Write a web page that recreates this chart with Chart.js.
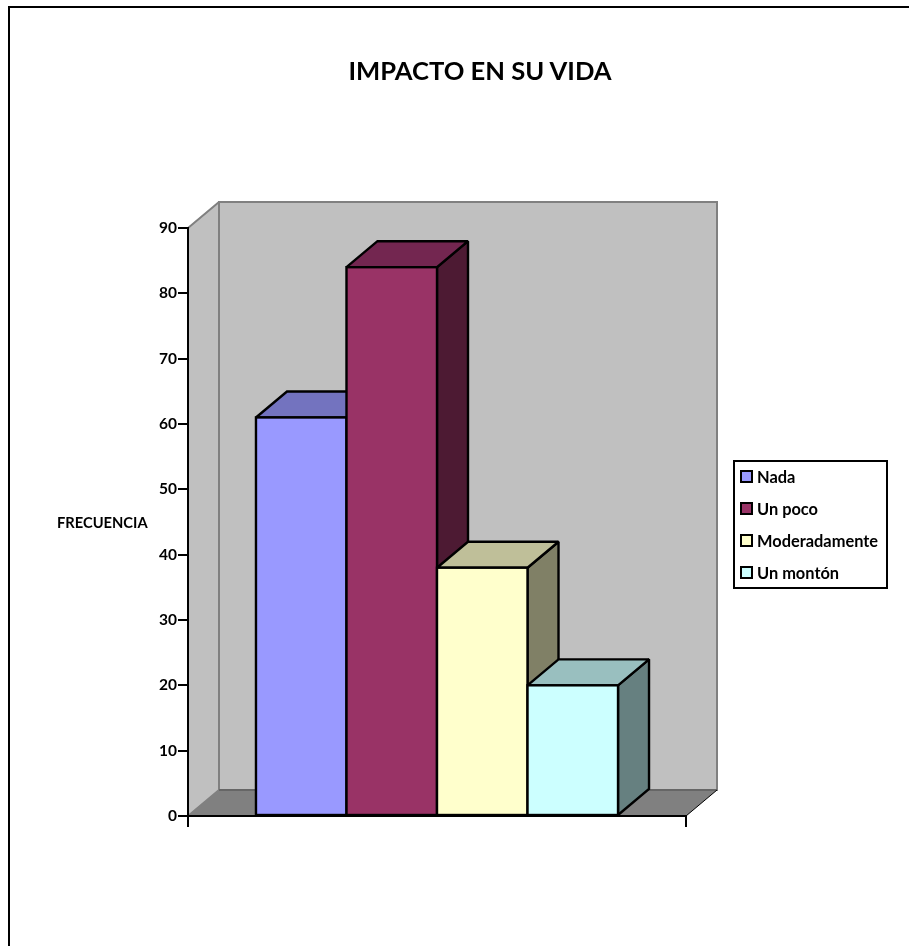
<!DOCTYPE html>
<html>
<head>
<meta charset="utf-8">
<title>Impacto en su vida</title>
<script src="https://cdn.jsdelivr.net/npm/chart.js@4"></script>
<style>
  html, body { margin: 0; padding: 0; background: #fff; overflow: hidden; }
  body { position: relative; width: 909px; height: 946px; font-family: Lato, sans-serif; font-weight: 700; color: #000; }
  #frame { position: absolute; left: 8px; top: 6px; right: 0; bottom: 0; border-left: 2px solid #000; border-top: 2px solid #000; }
  #chart { position: absolute; left: 0; top: 0; }
  #title { position: absolute; left: 280px; width: 400px; top: 55px; text-align: center; font-size: 25.6px; line-height: 30px; }
  #yLabel { position: absolute; left: 57px; top: 513px; font-size: 14.7px; line-height: 18px; }
  #legend { position: absolute; left: 733px; top: 460px; width: 151px; height: 125px; border: 2px solid #000; }
  .row { position: absolute; left: 0; height: 32px; font-size: 16.4px; line-height: 18px; white-space: nowrap; }
  .row i { position: absolute; left: 5px; top: 6px; width: 9px; height: 9px; border: 2px solid #000; }
  .row span { position: absolute; left: 22px; top: 4px; }
</style>
</head>
<body>
<div id="frame"></div>
<canvas id="chart" width="909" height="946"></canvas>
<div id="title">IMPACTO EN SU VIDA</div>
<div id="yLabel">FRECUENCIA</div>
<div id="legend"></div>
<script>
/* ---------------- DATA ---------------- */
const categories  = ["Nada", "Un poco", "Moderadamente", "Un montón"];
const frequencies = [61, 84, 38, 20];
const yTicks      = [0, 10, 20, 30, 40, 50, 60, 70, 80, 90];

/* --------------- STYLE ---------------- */
const frontColors = ["#9999FF", "#993366", "#FFFFCC", "#CCFFFF"];
const topColors   = ["#7373BF", "#732650", "#BFBF99", "#99BFBF"];
const sideColors  = ["#4D4D80", "#4D1A33", "#808066", "#668080"];
const DEPTH_X = 31;
const DEPTH_Y = 26;

function poly(ctx, pts, fill, stroke, width) {
  ctx.beginPath();
  pts.forEach(([x, y], i) => i ? ctx.lineTo(x, y) : ctx.moveTo(x, y));
  ctx.closePath();
  ctx.fillStyle = fill;
  ctx.fill();
  if (stroke) {
    ctx.strokeStyle = stroke;
    ctx.lineWidth = width;
    ctx.lineJoin = "miter";
    ctx.miterLimit = 2;
    ctx.stroke();
  }
}

/* walls and floor go under the axes */
const walls = {
  id: "walls",
  beforeDraw(chart) {
    const { ctx, chartArea: a } = chart;
    const dx = DEPTH_X, dy = DEPTH_Y;
    ctx.save();
    poly(ctx, [[a.left + dx, a.top - dy], [a.right + dx, a.top - dy], [a.right + dx, a.bottom - dy], [a.left + dx, a.bottom - dy]], "#C0C0C0", "#808080", 2);
    poly(ctx, [[a.left, a.top], [a.left + dx, a.top - dy], [a.left + dx, a.bottom - dy], [a.left, a.bottom]], "#C0C0C0", "#808080", 2);
    poly(ctx, [[a.left, a.bottom], [a.left + dx, a.bottom - dy], [a.right + dx, a.bottom - dy], [a.right, a.bottom]], "#808080");
    ctx.strokeStyle = "#666666";
    ctx.lineWidth = 2;
    ctx.beginPath();
    ctx.moveTo(a.left + dx, a.bottom - dy);
    ctx.lineTo(a.right + dx, a.bottom - dy);
    ctx.stroke();
    ctx.strokeStyle = "#000";
    ctx.lineWidth = 1;
    ctx.beginPath();
    ctx.moveTo(a.right, a.bottom);
    ctx.lineTo(a.right + dx, a.bottom - dy);
    ctx.stroke();
    ctx.restore();
  }
};

/* chart.js paints the last dataset first, here the overlap needs left to right */
const bars3d = {
  id: "bars3d",
  beforeDatasetDraw() { return false; },
  afterDatasetsDraw(chart) {
    const { ctx } = chart;
    const dx = DEPTH_X, dy = DEPTH_Y;
    ctx.save();
    frequencies.forEach((_, i) => {
      const bar = chart.getDatasetMeta(i).data[0];
      const l = bar.x - bar.width / 2, r = bar.x + bar.width / 2;
      const t = bar.y, b = bar.base;
      poly(ctx, [[r, t], [r + dx, t - dy], [r + dx, b - dy], [r, b]], sideColors[i], "#000", 2.4);
      poly(ctx, [[l, t], [l + dx, t - dy], [r + dx, t - dy], [r, t]], topColors[i], "#000", 2.4);
      bar.draw(ctx);
      // outline centred on the bar edge, the built in border sits inside it
      ctx.strokeStyle = "#000";
      ctx.lineWidth = 2.4;
      ctx.strokeRect(l, t, r - l, b - t);
    });
    ctx.restore();
  }
};

new Chart(document.getElementById("chart"), {
  type: "bar",
  data: {
    labels: [""],
    datasets: categories.map((c, i) => ({
      label: c,
      data: [frequencies[i]],
      backgroundColor: frontColors[i],
      borderWidth: 0
    }))
  },
  options: {
    responsive: false,
    animation: false,
    layout: { padding: { left: 100, top: 228, right: 223, bottom: 0 } },
    plugins: { legend: { display: false }, title: { display: false }, tooltip: { enabled: false } },
    datasets: { bar: { categoryPercentage: 0.727, barPercentage: 1 } },
    scales: {
      x: {
        afterFit: s => { s.height = 130; },
        grid: { drawOnChartArea: false, tickLength: 11, color: "#000", lineWidth: 2, offset: true },
        border: { color: "#000", width: 2 },
        ticks: { display: false }
      },
      y: {
        min: 0,
        max: 90,
        afterFit: s => { s.width = 88; },
        afterBuildTicks: s => { s.ticks = yTicks.map(v => ({ value: v })); },
        grid: { drawOnChartArea: false, tickLength: 10, color: "#000", lineWidth: 2 },
        border: { color: "#000", width: 2 },
        ticks: { color: "#000", padding: 1, font: { family: "Lato", weight: "700", size: 15.5 } }
      }
    }
  },
  plugins: [walls, bars3d]
});

/* ---------------- legend ---------------- */
const legendBox = document.getElementById("legend");
categories.forEach((c, i) => {
  const row = document.createElement("div");
  row.className = "row";
  row.style.top = (2 + i * 32) + "px";
  row.innerHTML = `<i style="background:${frontColors[i]}"></i><span>${c}</span>`;
  legendBox.appendChild(row);
});
</script>
</body>
</html>
